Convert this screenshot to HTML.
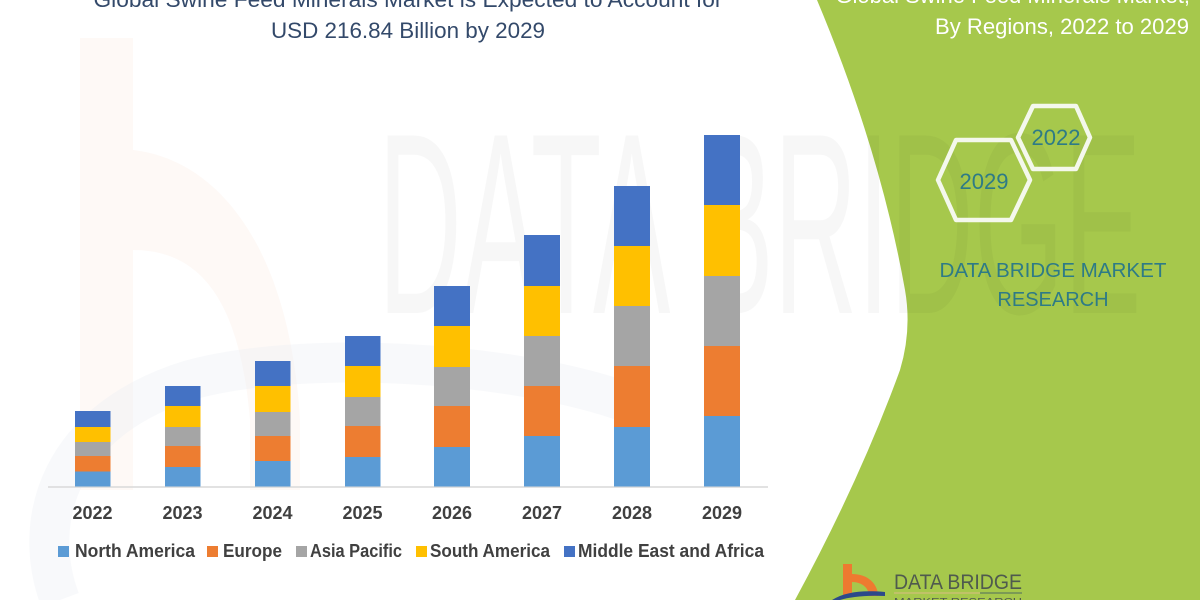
<!DOCTYPE html>
<html><head><meta charset="utf-8"><style>
html,body{margin:0;padding:0;background:#fff;}
svg{display:block;}
text{font-family:"Liberation Sans",Arial,sans-serif;}
</style></head><body>
<svg width="1200" height="600" viewBox="0 0 1200 600" xmlns="http://www.w3.org/2000/svg">
<rect width="1200" height="600" fill="#ffffff"/>
<!-- faint watermark b logo -->
<g opacity="0.45">
<path d="M80,38 L133,38 L133,150 C220,160 290,250 300,420 L300,490 L250,490 L250,420 C240,300 200,250 133,250 L133,490 L80,490 Z" fill="#fbe6da" opacity="0.55"/>
</g>
<path d="M60,600 C30,520 60,420 190,380 C300,350 500,360 620,400" fill="none" stroke="#eef1f6" stroke-width="40" opacity="0.4"/>
<!-- green panel -->
<path d="M817,0 L1200,0 L1200,600 L795,600 Q860,480 900,370 Q912,330 905,290 Q880,150 817,0 Z" fill="#a6c84c"/>
<!-- faint watermark text -->
<g opacity="0.028" fill="#000">
<text x="378" y="313" font-size="258" transform="translate(378,0) scale(0.45,1) translate(-378,0)">DATA BRIDGE</text>
</g>
<!-- titles -->
<text x="408" y="7" font-size="22" fill="#33496a" text-anchor="middle" textLength="629" lengthAdjust="spacingAndGlyphs">Global Swine Feed Minerals Market is Expected to Account for</text>
<text x="408" y="38" font-size="22" fill="#33496a" text-anchor="middle" textLength="274" lengthAdjust="spacingAndGlyphs">USD 216.84 Billion by 2029</text>
<text x="1190" y="3" font-size="22" fill="#ffffff" text-anchor="end">Global Swine Feed Minerals Market,</text>
<text x="1189" y="34" font-size="22" fill="#ffffff" text-anchor="end" textLength="254" lengthAdjust="spacingAndGlyphs">By Regions, 2022 to 2029</text>
<!-- hexagons -->
<polygon points="938,180 956,140 1011,140 1030,180 1011,220 956,220" fill="none" stroke="#f4f8ec" stroke-width="4.5" stroke-linejoin="round"/>
<polygon points="1018,137.5 1033,106 1076,106 1090,137.5 1076,169 1033,169" fill="none" stroke="#f4f8ec" stroke-width="4.5" stroke-linejoin="round"/>
<text x="984" y="189" font-size="22" fill="#2e7b86" text-anchor="middle">2029</text>
<text x="1056" y="145" font-size="22" fill="#2e7b86" text-anchor="middle">2022</text>
<text x="1053" y="277" font-size="20" fill="#2e7b86" text-anchor="middle" textLength="227" lengthAdjust="spacingAndGlyphs">DATA BRIDGE MARKET</text>
<text x="1053" y="306" font-size="20" fill="#2e7b86" text-anchor="middle">RESEARCH</text>
<!-- axis -->
<line x1="48" y1="487" x2="768" y2="487" stroke="#d9d9d9" stroke-width="1.5"/>
<!-- bars -->
<g>
<rect x="75" y="471.5" width="35.5" height="15" fill="#5b9bd5"/>
<rect x="75" y="456" width="35.5" height="15.5" fill="#ed7d31"/>
<rect x="75" y="442" width="35.5" height="14" fill="#a5a5a5"/>
<rect x="75" y="427" width="35.5" height="15" fill="#ffc000"/>
<rect x="75" y="411" width="35.5" height="16" fill="#4472c4"/>
<rect x="165" y="467" width="35.5" height="19.5" fill="#5b9bd5"/>
<rect x="165" y="446" width="35.5" height="21" fill="#ed7d31"/>
<rect x="165" y="427" width="35.5" height="19" fill="#a5a5a5"/>
<rect x="165" y="406" width="35.5" height="21" fill="#ffc000"/>
<rect x="165" y="386" width="35.5" height="20" fill="#4472c4"/>
<rect x="255" y="461" width="35.5" height="25.5" fill="#5b9bd5"/>
<rect x="255" y="436" width="35.5" height="25" fill="#ed7d31"/>
<rect x="255" y="412" width="35.5" height="24" fill="#a5a5a5"/>
<rect x="255" y="386" width="35.5" height="26" fill="#ffc000"/>
<rect x="255" y="361" width="35.5" height="25" fill="#4472c4"/>
<rect x="345" y="457" width="35.5" height="29.5" fill="#5b9bd5"/>
<rect x="345" y="426" width="35.5" height="31" fill="#ed7d31"/>
<rect x="345" y="397" width="35.5" height="29" fill="#a5a5a5"/>
<rect x="345" y="366" width="35.5" height="31" fill="#ffc000"/>
<rect x="345" y="336" width="35.5" height="30" fill="#4472c4"/>
<rect x="434" y="447" width="36" height="39.5" fill="#5b9bd5"/>
<rect x="434" y="406" width="36" height="41" fill="#ed7d31"/>
<rect x="434" y="367" width="36" height="39" fill="#a5a5a5"/>
<rect x="434" y="326" width="36" height="41" fill="#ffc000"/>
<rect x="434" y="286" width="36" height="40" fill="#4472c4"/>
<rect x="524" y="436" width="36" height="50.5" fill="#5b9bd5"/>
<rect x="524" y="386" width="36" height="50" fill="#ed7d31"/>
<rect x="524" y="336" width="36" height="50" fill="#a5a5a5"/>
<rect x="524" y="286" width="36" height="50" fill="#ffc000"/>
<rect x="524" y="235" width="36" height="51" fill="#4472c4"/>
<rect x="614" y="427" width="36" height="59.5" fill="#5b9bd5"/>
<rect x="614" y="366" width="36" height="61" fill="#ed7d31"/>
<rect x="614" y="306" width="36" height="60" fill="#a5a5a5"/>
<rect x="614" y="246" width="36" height="60" fill="#ffc000"/>
<rect x="614" y="186" width="36" height="60" fill="#4472c4"/>
<rect x="704" y="416" width="36" height="70.5" fill="#5b9bd5"/>
<rect x="704" y="346" width="36" height="70" fill="#ed7d31"/>
<rect x="704" y="276" width="36" height="70" fill="#a5a5a5"/>
<rect x="704" y="205" width="36" height="71" fill="#ffc000"/>
<rect x="704" y="135" width="36" height="70" fill="#4472c4"/>
</g>
<!-- year labels -->
<g font-size="18" font-weight="bold" fill="#404040" text-anchor="middle">
<text x="92.5" y="519">2022</text>
<text x="182.5" y="519">2023</text>
<text x="272.5" y="519">2024</text>
<text x="362.5" y="519">2025</text>
<text x="452" y="519">2026</text>
<text x="542" y="519">2027</text>
<text x="632" y="519">2028</text>
<text x="722" y="519">2029</text>
</g>
<!-- legend -->
<rect x="58" y="546" width="11" height="11" fill="#5b9bd5"/>
<rect x="207" y="546" width="11" height="11" fill="#ed7d31"/>
<rect x="296" y="546" width="11" height="11" fill="#a5a5a5"/>
<rect x="416" y="546" width="11" height="11" fill="#ffc000"/>
<rect x="564" y="546" width="11" height="11" fill="#4472c4"/>
<g font-size="18" font-weight="bold" fill="#404040">
<text x="75" y="557" textLength="120" lengthAdjust="spacingAndGlyphs">North America</text>
<text x="223" y="557" textLength="59" lengthAdjust="spacingAndGlyphs">Europe</text>
<text x="310" y="557" textLength="92" lengthAdjust="spacingAndGlyphs">Asia Pacific</text>
<text x="430" y="557" textLength="120" lengthAdjust="spacingAndGlyphs">South America</text>
<text x="578" y="557" textLength="186" lengthAdjust="spacingAndGlyphs">Middle East and Africa</text>
</g>
<!-- bottom logo -->
<rect x="843" y="564" width="9" height="32" fill="#ee7a30"/>
<path d="M852,574 C868,574 878,584 878,596 L869,596 C869,588 862,582 852,582 Z" fill="#ee7a30"/>
<path d="M832,600 C845,592 862,590 885,592 L885,596 C865,595 850,597 840,600 Z" fill="#2c4a8a"/>
<text x="894" y="589" font-size="21" fill="#4f5a4e" textLength="128" lengthAdjust="spacingAndGlyphs">DATA BRIDGE</text>
<line x1="894" y1="593" x2="980" y2="593" stroke="#c8bf72" stroke-width="1.5"/>
<line x1="980" y1="593" x2="1022" y2="593" stroke="#6d8a58" stroke-width="1.5"/>
<text x="894" y="605" font-size="10" fill="#4f5a4e" textLength="128" lengthAdjust="spacingAndGlyphs">MARKET RESEARCH</text>
</svg>
</body></html>
